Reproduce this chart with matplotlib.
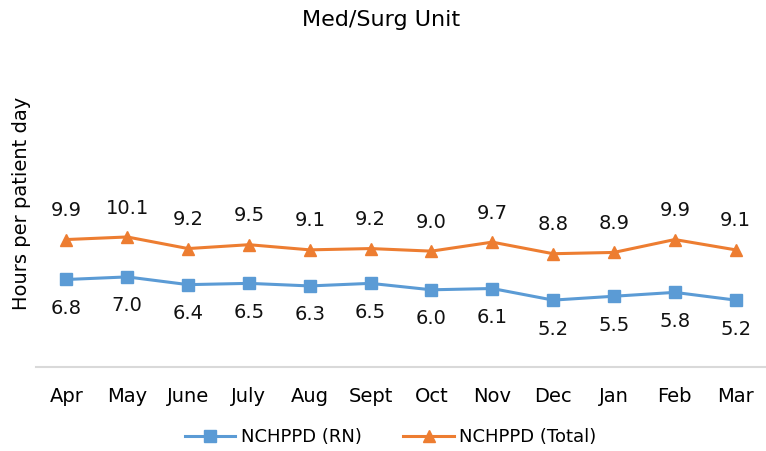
import matplotlib.pyplot as plt
import numpy as np

plt.rcParams['font.family'] = ['DejaVu Sans']

# Données
months = ["Apr", "May", "June", "July", "Aug", "Sept", "Oct", "Nov", "Dec", "Jan", "Feb", "Mar"]
rn = [6.8, 7.0, 6.4, 6.5, 6.3, 6.5, 6.0, 6.1, 5.2, 5.5, 5.8, 5.2]
total = [9.9, 10.1, 9.2, 9.5, 9.1, 9.2, 9.0, 9.7, 8.8, 8.9, 9.9, 9.1]

blue = "#5B9BD5"
orange = "#ED7D31"

fig = plt.figure(figsize=(7.66, 4.51), dpi=100)
ax = fig.add_axes([0.047, 0.186, 0.953, 0.40])

x = np.arange(len(months))
ax.plot(x, rn, color=blue, lw=2.2, marker="s", ms=8, label="NCHPPD (RN)")
ax.plot(x, total, color=orange, lw=2.2, marker="^", ms=8, label="NCHPPD (Total)")

for xi, v in zip(x, total):
    ax.annotate(f"{v:.1f}", (xi, v), xytext=(0, 14), textcoords="offset points",
                ha="center", va="bottom", fontsize=14, color="#111111")
for xi, v in zip(x, rn):
    ax.annotate(f"{v:.1f}", (xi, v), xytext=(0, -14), textcoords="offset points",
                ha="center", va="top", fontsize=14, color="#111111")

ax.set_xlim(-0.5, len(months) - 0.5)
ax.set_ylim(0, 14)
ax.set_xticks(x)
ax.set_xticklabels(months, fontsize=14)
ax.tick_params(axis="x", length=0, pad=14)
ax.set_yticks([])
for s in ["top", "right", "left"]:
    ax.spines[s].set_visible(False)
ax.spines["bottom"].set_color("#D9D9D9")
ax.spines["bottom"].set_linewidth(1.5)

fig.text(0.497, 0.955, "Med/Surg Unit", ha="center", va="center", fontsize=16)
fig.text(0.028, 0.55, "Hours per patient day", rotation=90, ha="center", va="center", fontsize=14)

fig.legend(loc="center", bbox_to_anchor=(0.51, 0.031), ncol=2, frameon=False,
           fontsize=13, handlelength=2.8, columnspacing=2.3, handletextpad=0.3)

fig.savefig("out.png", dpi=100)
